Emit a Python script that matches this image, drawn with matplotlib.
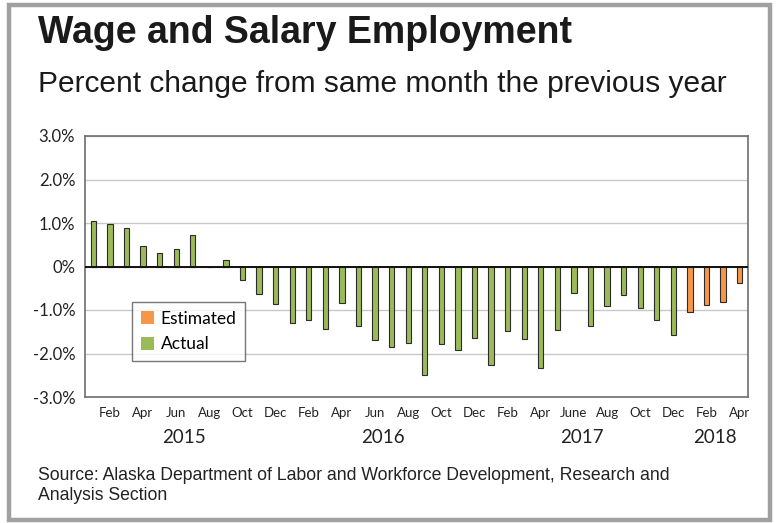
import matplotlib
matplotlib.use("Agg")
import matplotlib.pyplot as plt
import matplotlib.transforms as mtransforms
from matplotlib.patches import Rectangle, Patch
import numpy as np

# 2015-01 .. 2018-04
actual = [1.04, 0.98, 0.88, 0.46, 0.32, 0.41, 0.72, 0.0, 0.16, -0.30, -0.64, -0.86,
          -1.31, -1.22, -1.44, -0.84, -1.37, -1.69, -1.85, -1.75, -2.49, -1.79, -1.91, -1.64,
          -2.27, -1.49, -1.66, -2.33, -1.47, -0.60, -1.36, -0.91, -0.66, -0.95, -1.22, -1.57]
estimated = [-1.05, -0.89, -0.82, -0.37]
tick_labels = ["Feb","Apr","Jun","Aug","Oct","Dec",
               "Feb","Apr","Jun","Aug","Oct","Dec",
               "Feb","Apr","June","Aug","Oct","Dec",
               "Feb","Apr"]
years = ["2015", "2016", "2017", "2018"]
year_months = [12, 12, 12, 4]
ytick_vals = [-3, -2, -1, 0, 1, 2, 3]
ytick_labels = ["-3.0%", "-2.0%", "-1.0%", "0%", "1.0%", "2.0%", "3.0%"]

green = "#9BBB59"
orange = "#F79646"
edge = "#2b2b2b"

W, H = 776, 523
fig = plt.figure(figsize=(W/100, H/100), dpi=100)

# outer frame
fig.patches.append(Rectangle((9/W, 3/H), (770-9)/W, (518-3)/H, transform=fig.transFigure,
                             fill=False, edgecolor="#a0a0a0", linewidth=3.2))

ax = fig.add_axes([85/W, 1-397/H, (748-85)/W, (397-136)/H])

n_act = len(actual)
x_act = np.arange(n_act)
x_est = np.arange(n_act, n_act + len(estimated))
bw = 0.32
ax.bar(x_act, actual, width=bw, color=green, edgecolor=edge, linewidth=0.8, zorder=3)
ax.bar(x_est, estimated, width=bw, color=orange, edgecolor=edge, linewidth=0.8, zorder=3)

n = n_act + len(estimated)
ax.set_xlim(-0.5, n - 0.5)
ax.set_ylim(-3.0, 3.0)
ax.set_yticks(ytick_vals)
ax.set_yticklabels(ytick_labels, fontsize=12, family="Lato", color="#222222")
ax.yaxis.grid(True, color="#c8c8c8", linewidth=1.0, zorder=0)
ax.axhline(0, color="#111111", linewidth=1.4, zorder=4)
ax.set_xticks(np.arange(1, n, 2))
ax.set_xticklabels(tick_labels, fontsize=9.5, family="Lato", color="#222222")
ax.tick_params(axis="both", length=0)
ax.tick_params(axis="y", pad=7)
ax.tick_params(axis="x", pad=7)
for s in ax.spines.values():
    s.set_color("#6e6e6e")
    s.set_linewidth(1.2)

# year labels, centered under each year's months
offset = mtransforms.ScaledTranslation(0, -32/100, fig.dpi_scale_trans)
start = 0
for y, m in zip(years, year_months):
    center = start + (m - 1) / 2
    ax.text(center, -3.0, y, transform=ax.transData + offset,
            ha="center", va="top", fontsize=13.5, family="Lato", color="#222222")
    start += m

leg = ax.legend(handles=[Patch(facecolor=orange, edgecolor="none", label="Estimated"),
                         Patch(facecolor=green, edgecolor="none", label="Actual")],
                loc="upper left", bbox_to_anchor=((132-85)/(748-85), (397-302)/(397-136)),
                prop={"family": "Lato", "size": 12.5}, frameon=True, fancybox=False,
                edgecolor="#555555", handlelength=0.75, handleheight=0.75, handletextpad=0.4,
                borderpad=0.5, labelspacing=0.55, borderaxespad=0)
leg.get_frame().set_linewidth(1.0)
leg.set_zorder(10)

fig.text(38/W, 1-33/H, "Wage and Salary Employment", fontsize=27, fontweight="bold",
         family="Liberation Sans", color="#1a1a1a", va="center", ha="left")
fig.text(38/W, 1-84/H, "Percent change from same month the previous year", fontsize=21.5,
         family="Liberation Sans", color="#1a1a1a", va="center", ha="left")
fig.text(38/W, 1-475/H, "Source: Alaska Department of Labor and Workforce Development, Research and",
         fontsize=12.7, family="Liberation Sans", color="#222222", va="center", ha="left")
fig.text(38/W, 1-496/H, "Analysis Section",
         fontsize=12.7, family="Liberation Sans", color="#222222", va="center", ha="left")

fig.savefig("out.png", dpi=100)
